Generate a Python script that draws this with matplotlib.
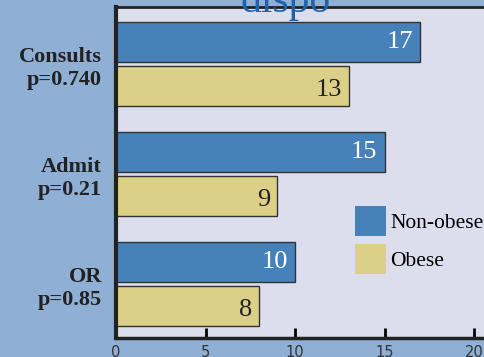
import matplotlib.pyplot as plt
from matplotlib.patches import Patch

categories = ['Consults\np=0.740', 'Admit\np=0.21', 'OR\np=0.85']
non_obese = [17, 15, 10]
obese = [13, 9, 8]
xticks = [0, 5, 10, 15, 20]

fig_bg = '#8fafd5'
ax_bg = '#dcdeed'
blue = '#4682b9'
gold = '#dccf88'
serif = ['Liberation Serif', 'DejaVu Serif']

fig = plt.figure(figsize=(4.84, 3.57), dpi=100, facecolor=fig_bg)
ax = fig.add_axes([116 / 484, 19 / 357, 385 / 484, 331 / 357], facecolor=ax_bg)

pos = [2, 1, 0]
h = 0.37
nb = ax.barh([p + 0.2 for p in pos], non_obese, height=h, color=blue,
             edgecolor='#333333', linewidth=1)
ob = ax.barh([p - 0.2 for p in pos], obese, height=h, color=gold,
             edgecolor='#333333', linewidth=1)

for p, v in zip(pos, non_obese):
    ax.text(v - 0.4, p + 0.2, str(v), ha='right', va='center', color='white',
            fontsize=19, family=serif)
for p, v in zip(pos, obese):
    ax.text(v - 0.4, p - 0.24, str(v), ha='right', va='center', color='#222222',
            fontsize=19, family=serif)

ax.set_xlim(0, 21.5)
ax.set_ylim(-0.49, 2.518)
ax.set_yticks(pos)
ax.set_yticklabels(categories, fontsize=16, family=serif, fontweight='bold',
                   color='#222222', linespacing=1.25, ha='right')
ax.tick_params(axis='y', length=0, pad=10)
ax.set_xticks(xticks)
ax.tick_params(axis='x', direction='in', length=7, width=2, labelsize=10.5,
               labelcolor='#333333', pad=5)

ax.spines['left'].set_linewidth(3)
ax.spines['bottom'].set_linewidth(2.5)
ax.spines['top'].set_linewidth(2)
for s in ax.spines.values():
    s.set_color('#222222')

handles = [Patch(facecolor=blue, edgecolor='none'), Patch(facecolor=gold, edgecolor='none')]
ax.legend(handles, ['Non-obese', 'Obese'], loc='upper left',
          bbox_to_anchor=(355 / 484, 1 - 206 / 357), bbox_transform=fig.transFigure,
          frameon=False, borderpad=0, borderaxespad=0, handlelength=1.44,
          handleheight=1.8, handletextpad=0.2, labelspacing=0.33,
          prop={'family': serif, 'size': 15.5})

fig.text(286 / 484, 1 - 12 / 357, 'dispo', ha='center', va='baseline',
         fontsize=30, family=serif, color='#1f63a8', zorder=10)

fig.savefig('out.png', dpi=100, facecolor=fig_bg)
